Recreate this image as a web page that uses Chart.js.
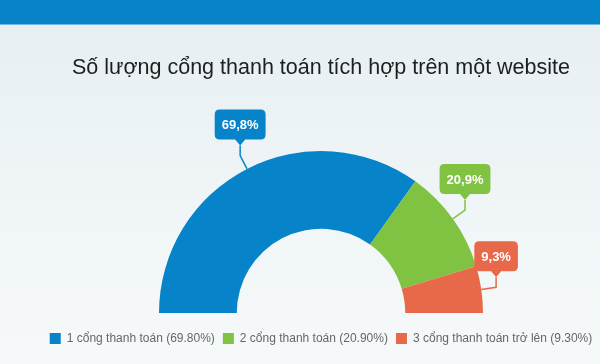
<!DOCTYPE html>
<html>
<head>
<meta charset="utf-8">
<script src="https://cdn.jsdelivr.net/npm/chart.js@4/dist/chart.umd.min.js"></script>
<style>
  html, body { margin: 0; padding: 0; }
  body {
    width: 600px; height: 364px; position: relative; overflow: hidden;
    background: linear-gradient(180deg, #e6eef1 0%, #eef4f6 45%, #f6f9fa 100%);
    font-family: "Liberation Sans", Arial, sans-serif;
  }
  #topbar {
    position: absolute; left: 0; top: 0; width: 600px; height: 24px;
    background: #0683c9; border-bottom: 1px solid #6fb8e3;
  }
  /* a bit wider than the page so the legend fits on one row while the half-donut sits right of centre */
  #wrap { position: absolute; left: -21px; top: 0; width: 642px; height: 364px; }
</style>
</head>
<body>
<div id="topbar"></div>
<div id="wrap"><canvas id="gatewayChart"></canvas></div>
<script>
const categories = ['1 cổng thanh toán', '2 cổng thanh toán', '3 cổng thanh toán trở lên'];
const shares = [69.8, 20.9, 9.3];
const legendLabels = ['1 cổng thanh toán (69.80%)', '2 cổng thanh toán (20.90%)', '3 cổng thanh toán trở lên (9.30%)'];
const calloutLabels = ['69,8%', '20,9%', '9,3%'];
const colors = ['#0683c9', '#80c242', '#e8694a'];

// callout boxes with a little pointer, tied to each slice by a bent line
const calloutPlugin = {
    id: 'callouts',
    afterDatasetsDraw(chart) {
        const ctx = chart.ctx;
        const meta = chart.getDatasetMeta(0);
        ctx.save();
        ctx.font = 'bold 13px "Liberation Sans", Arial, sans-serif';
        meta.data.forEach(function (arc, i) {
            const p = arc.getProps(['x', 'y', 'startAngle', 'endAngle', 'outerRadius'], true);
            const mid = (p.startAngle + p.endAngle) / 2;
            const ex = p.x + Math.cos(mid) * p.outerRadius;
            const ey = p.y + Math.sin(mid) * p.outerRadius;
            const bx = p.x + Math.cos(mid) * (p.outerRadius + 15);
            const by = p.y + Math.sin(mid) * (p.outerRadius + 15);
            const tipY = by - 10;

            ctx.strokeStyle = colors[i];
            ctx.lineWidth = 1.5;
            ctx.beginPath();
            ctx.moveTo(ex, ey);
            ctx.lineTo(bx, by);
            ctx.lineTo(bx, tipY);
            ctx.stroke();

            const text = calloutLabels[i];
            const w = ctx.measureText(text).width + 14;
            const h = 30;
            const left = bx - w / 2;
            const bottom = tipY - 6;
            const top = bottom - h;
            const r = 5;
            ctx.fillStyle = colors[i];
            ctx.beginPath();
            ctx.moveTo(left + r, top);
            ctx.lineTo(left + w - r, top);
            ctx.quadraticCurveTo(left + w, top, left + w, top + r);
            ctx.lineTo(left + w, bottom - r);
            ctx.quadraticCurveTo(left + w, bottom, left + w - r, bottom);
            ctx.lineTo(bx + 5, bottom);
            ctx.lineTo(bx, tipY);
            ctx.lineTo(bx - 5, bottom);
            ctx.lineTo(left + r, bottom);
            ctx.quadraticCurveTo(left, bottom, left, bottom - r);
            ctx.lineTo(left, top + r);
            ctx.quadraticCurveTo(left, top, left + r, top);
            ctx.closePath();
            ctx.fill();

            ctx.fillStyle = '#ffffff';
            ctx.textAlign = 'center';
            ctx.textBaseline = 'middle';
            ctx.fillText(text, bx, top + h / 2 + 1);
        });
        ctx.restore();
    }
};

const ctx = document.getElementById('gatewayChart').getContext('2d');
new Chart(ctx, {
    type: 'doughnut',
    data: {
        labels: categories,
        datasets: [{
            data: shares,
            backgroundColor: colors,
            borderWidth: 0
        }]
    },
    options: {
        responsive: true,
        maintainAspectRatio: false,
        animation: false,
        rotation: -90,
        circumference: 180,
        cutout: '52%',
        layout: { padding: { top: 30, left: 42, right: 0, bottom: 9.5 } },
        plugins: {
            title: {
                display: true,
                text: 'Số lượng cổng thanh toán tích hợp trên một website',
                color: '#1e1e1e',
                font: { family: '"Liberation Sans", Arial, sans-serif', size: 21.5, weight: 'normal' },
                padding: { top: 25.2, bottom: 70 }
            },
            legend: {
                position: 'bottom',
                title: { display: true, text: '', font: { size: 1 }, padding: { top: 10.3, bottom: 0 } },
                labels: {
                    boxWidth: 11,
                    boxHeight: 11,
                    padding: 8,
                    color: '#383838',
                    font: { family: '"Liberation Sans", Arial, sans-serif', size: 12 },
                    generateLabels: function (chart) {
                        return legendLabels.map(function (t, i) {
                            return { text: t, fillStyle: colors[i], strokeStyle: colors[i], lineWidth: 0, index: i, hidden: false };
                        });
                    }
                }
            },
            tooltip: { enabled: false }
        }
    },
    plugins: [calloutPlugin]
});
</script>
</body>
</html>
